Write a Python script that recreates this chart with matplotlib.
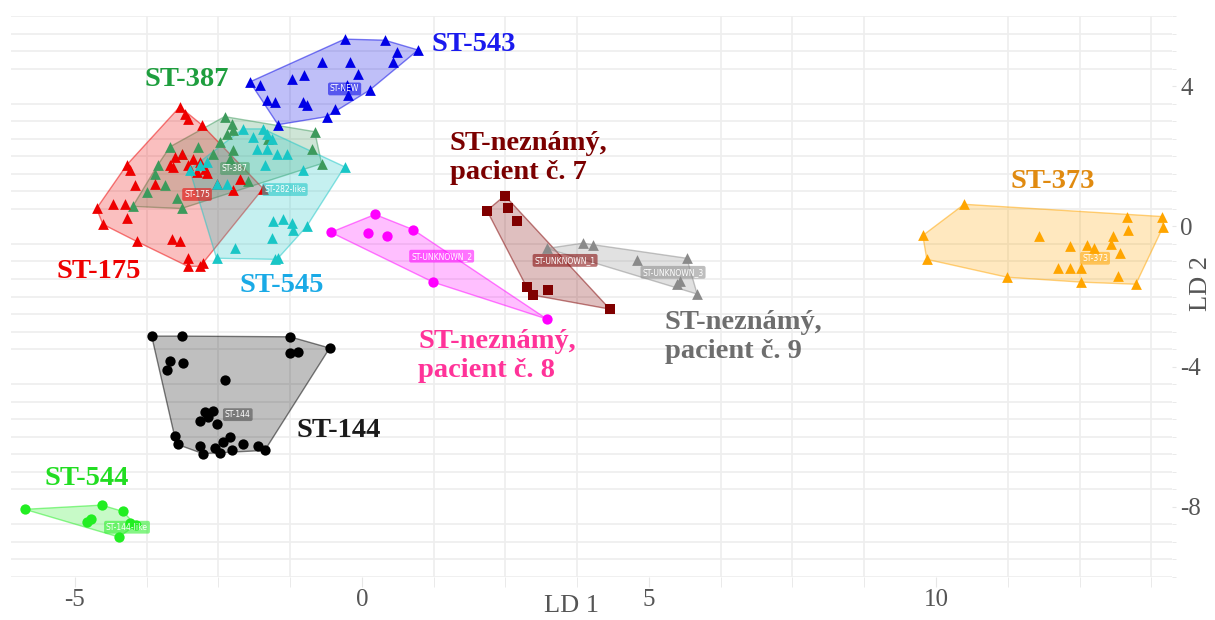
import matplotlib
matplotlib.use("Agg")
import matplotlib.pyplot as plt
import numpy as np

plt.rcParams["axes.unicode_minus"] = False

# data (LD1, LD2)
st543_x = [-0.30, 0.40, 0.61, 0.98, 0.54, -0.70, -0.21, -0.07, -1.22, -1.00, -1.95,
           -1.78, -0.26, 0.14, -0.24, -1.66, -1.52, -1.03, -0.96, -0.47, -0.61, -1.46]
st543_y = [5.34, 5.31, 4.97, 5.03, 4.69, 4.69, 4.69, 4.35, 4.20, 4.32, 4.12,
           4.03, 4.03, 3.89, 3.75, 3.61, 3.55, 3.55, 3.47, 3.35, 3.13, 2.90]

st175_x = [-3.17, -3.08, -3.03, -2.79, -4.09, -4.04, -3.95, -4.62, -4.34, -4.13, -4.09,
           -4.51, -3.92, -3.31, -3.17, -3.03, -3.03, -2.82, -2.77, -1.72, -3.26, -3.14,
           -3.29, -3.34, -3.03, -2.94, -2.82, -2.74, -2.53, -2.13, -2.25, -3.61, -2.87, -2.70]
st175_y = [3.41, 3.21, 3.07, 2.90, 1.76, 1.62, 1.19, 0.51, 0.63, 0.63, 0.23,
           0.06, -0.43, -0.37, -0.43, -0.91, -1.14, -1.14, -1.05, 1.08, 1.99, 2.05,
           1.70, 1.76, 1.76, 1.93, 1.85, 1.65, 1.22, 1.36, 1.05, 1.22, 1.56, 1.51]

st387_x = [-2.39, -2.26, -2.25, -2.35, -0.82, -0.87, -0.70, -3.34, -2.86, -3.14, -3.55, -3.61,
           -3.43, -3.75, -3.99, -3.14, -3.22, -2.30, -1.99, -2.60, -2.47, -2.25, -1.64]
st387_y = [3.13, 2.93, 2.76, 2.64, 2.70, 2.22, 1.79, 2.27, 2.27, 2.07, 1.76, 1.48,
           1.19, 0.99, 0.57, 0.51, 0.80, 1.93, 1.28, 2.05, 2.41, 2.19, 2.50]

st545_x = [-2.07, -1.90, -1.72, -1.66, -1.57, -1.83, -1.66, -1.48, -1.31, -1.69, -1.03, -0.30,
           -3.00, -2.82, -2.70, -2.35, -2.53, -1.55, -1.38, -1.22, -1.20, -0.96, -1.57, -2.21,
           -2.53, -1.52, -1.46]
st545_y = [2.78, 2.56, 2.78, 2.64, 2.50, 2.22, 2.22, 2.07, 2.05, 1.76, 1.62, 1.70,
           1.62, 1.76, 1.85, 1.22, 1.22, 0.14, 0.20, 0.09, -0.09, 0.00, -0.34, -0.63,
           -0.91, -0.94, -0.91]

unk2_x = [0.23, -0.54, 0.10, 0.44, 0.89, 1.24, 3.22]
unk2_y = [0.34, -0.17, -0.20, -0.28, -0.09, -1.59, -2.64]

unk1_x = [2.49, 2.54, 2.70, 2.18, 2.87, 2.98, 3.24, 4.32]
unk1_y = [0.88, 0.51, 0.14, 0.45, -1.73, -1.96, -1.82, -2.36]

unk3_x = [3.22, 3.85, 4.02, 4.79, 5.66, 5.54, 5.49, 5.84]
unk3_y = [-0.63, -0.48, -0.54, -0.97, -0.91, -1.56, -1.65, -1.93]

st144_x = [-3.66, -3.14, -1.25, -0.56, -1.25, -1.11, -3.34, -3.40, -3.12, -2.39, -2.74, -2.60,
           -2.82, -2.53, -2.68, -3.26, -3.21, -2.82, -2.77, -2.56, -2.47, -2.30, -2.26, -2.42,
           -2.07, -1.81, -1.69]
st144_y = [-3.13, -3.13, -3.15, -3.47, -3.61, -3.58, -3.84, -4.09, -3.89, -4.38, -5.28, -5.26,
           -5.54, -5.63, -5.45, -5.99, -6.22, -6.25, -6.48, -6.31, -6.45, -6.02, -6.39, -6.16,
           -6.22, -6.25, -6.39]

st544_x = [-5.87, -4.53, -4.16, -4.79, -4.72, -4.04, -3.94, -4.23]
st544_y = [-8.07, -7.95, -8.13, -8.44, -8.35, -8.47, -8.52, -8.86]

st373_x = [10.49, 13.33, 13.94, 13.95, 13.34, 9.77, 11.79, 9.84, 12.33, 12.63, 12.75,
           13.08, 13.05, 13.21, 12.13, 12.33, 12.53, 11.24, 12.53, 13.17, 13.48]
st373_y = [0.63, 0.28, 0.28, -0.03, -0.09, -0.26, -0.28, -0.94, -0.57, -0.54, -0.63,
           -0.28, -0.51, -0.77, -1.19, -1.19, -1.19, -1.45, -1.59, -1.42, -1.65]

x_ticks = [-5, 0, 5, 10]
y_ticks = [-8, -4, 0, 4]

# (x, y, marker, colour, small tag, tag position)
groups = [
    (st387_x, st387_y, "^", "#3d9a5c", "ST-387", (-2.21, 1.65)),
    (st175_x, st175_y, "^", "#ee0000", "ST-175", (-2.87, 0.91)),
    (st545_x, st545_y, "^", "#19c6c6", "ST-282-like", (-1.34, 1.05)),
    (st543_x, st543_y, "^", "#0000e6", "ST-NEW", (-0.30, 3.92)),
    (unk2_x, unk2_y, "o", "#ff00ff", "ST-UNKNOWN_2", (1.39, -0.85)),
    (unk1_x, unk1_y, "s", "#800000", "ST-UNKNOWN_1", (3.54, -0.97)),
    (unk3_x, unk3_y, "^", "#8a8a8a", "ST-UNKNOWN_3", (5.42, -1.31)),
    (st144_x, st144_y, "o", "#000000", "ST-144", (-2.16, -5.37)),
    (st544_x, st544_y, "o", "#22ee22", "ST-144-like", (-4.09, -8.58)),
    (st373_x, st373_y, "^", "#ffa500", "ST-373", (12.77, -0.91)),
]


def hull(px, py):
    pts = sorted(set(zip(px, py)))

    def cross(o, a, b):
        return (a[0] - o[0]) * (b[1] - o[1]) - (a[1] - o[1]) * (b[0] - o[0])

    lower, upper = [], []
    for p in pts:
        while len(lower) >= 2 and cross(lower[-2], lower[-1], p) <= 0:
            lower.pop()
        lower.append(p)
    for p in reversed(pts):
        while len(upper) >= 2 and cross(upper[-2], upper[-1], p) <= 0:
            upper.pop()
        upper.append(p)
    return np.array(lower[:-1] + upper[:-1])


fig = plt.figure(figsize=(12.15, 6.2), dpi=100)
ax = fig.add_axes([11 / 1215, 43 / 620, 1161 / 1215, 561 / 620])
ax.set_xlim(-6.11, 14.11)
ax.set_ylim(-10, 6)

# grid
ax.set_xticks(np.arange(-5, 14, 1.25), minor=True)
ax.set_yticks(np.arange(-10, 6.01, 0.5), minor=True)
ax.grid(which="minor", color="#eeeeee", lw=1.2)
for sp in ax.spines.values():
    sp.set_visible(False)
ax.set_axisbelow(True)

ax.set_xticks(x_ticks)
ax.set_yticks(y_ticks)
ax.yaxis.tick_right()
ax.tick_params(axis="x", which="both", length=7, color="#e6e6e6", pad=2,
               labelsize=18, labelcolor="#555555")
ax.tick_params(axis="y", which="both", length=3, color="#e6e6e6", pad=3,
               labelsize=18, labelcolor="#555555")
for lab in ax.get_xticklabels() + ax.get_yticklabels():
    lab.set_family("Liberation Serif")

# hulls
for gx, gy, m, c, tag, tpos in groups:
    h = hull(gx, gy)
    ax.fill(h[:, 0], h[:, 1], color=c, alpha=0.25, lw=0, zorder=2)
    hc = np.vstack([h, h[:1]])
    ax.plot(hc[:, 0], hc[:, 1], color=c, alpha=0.5, lw=1, zorder=2)

# points
for gx, gy, m, c, tag, tpos in groups:
    size = {"^": 60, "o": 55, "s": 50}[m]
    ax.scatter(gx, gy, marker=m, s=size, color=c, lw=0, zorder=3)

# small tags
for gx, gy, m, c, tag, tpos in groups:
    tc = "#444444" if c == "#000000" else c
    ax.text(tpos[0], tpos[1], tag, fontsize=5.5, color="white", ha="center", va="center",
            zorder=4, bbox=dict(boxstyle="round,pad=0.25", fc=tc, ec="none", alpha=0.55))

# big annotations
notes = [
    (1.22, 5.2, "ST-543", "#1a1aee"),
    (-3.78, 4.18, "ST-387", "#1e9e3e"),
    (-5.31, -1.28, "ST-175", "#ee0000"),
    (-2.13, -1.68, "ST-545", "#1aaae6"),
    (1.53, 1.96, "ST-neznámý,\npacient č. 7", "#7b0000"),
    (0.98, -3.69, "ST-neznámý,\npacient č. 8", "#ff3399"),
    (5.28, -3.15, "ST-neznámý,\npacient č. 9", "#6e6e6e"),
    (11.29, 1.28, "ST-373", "#e08a10"),
    (-1.13, -5.82, "ST-144", "#1a1a1a"),
    (-5.52, -7.19, "ST-544", "#22dd22"),
]
for nx, ny, txt, c in notes:
    ax.text(nx, ny, txt, fontsize=20.5, fontweight="bold", family="Liberation Serif",
            color=c, ha="left", va="center", linespacing=1.22, zorder=5)

fig.text(572 / 1215, 1 - 606 / 620, "LD 1", fontsize=19, family="Liberation Serif",
         color="#555555", ha="center", va="center")
fig.text(1201 / 1215, 1 - 284 / 620, "LD 2", fontsize=19, family="Liberation Serif",
         color="#555555", ha="center", va="center", rotation=90)

fig.savefig("out.png", dpi=100)
